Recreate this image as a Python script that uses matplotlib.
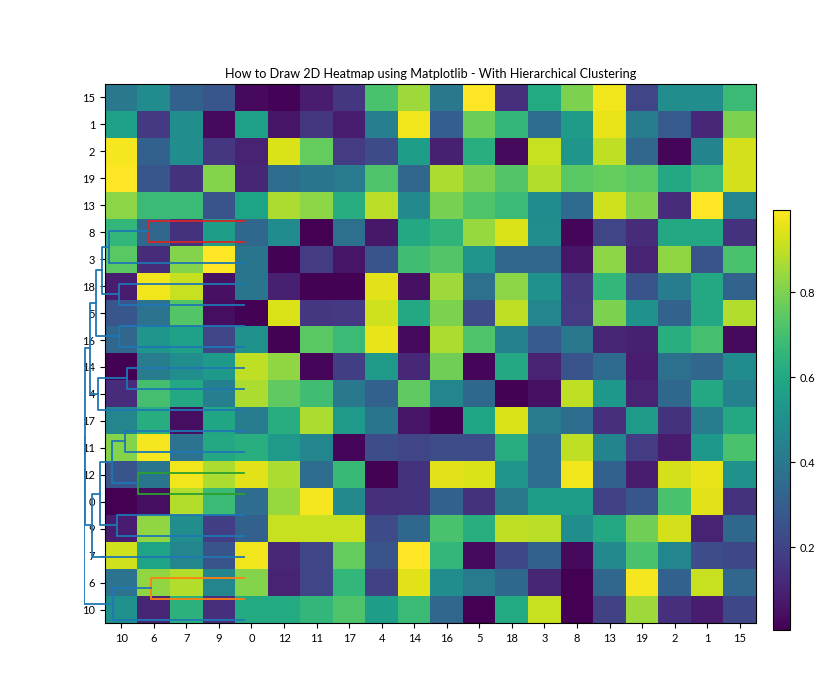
import matplotlib
matplotlib.use("Agg")
import matplotlib.pyplot as plt

plt.rcParams['font.family'] = ['Lato', 'DejaVu Sans']

# labels after clustering
row_labels = [15, 1, 2, 19, 13, 8, 3, 18, 5, 16, 14, 4, 17, 11, 12, 0, 9, 7, 6, 10]
col_labels = [10, 6, 7, 9, 0, 12, 11, 17, 4, 14, 16, 5, 18, 3, 8, 13, 19, 2, 1, 15]

# heatmap values, top row first
row_15 = [.40, .48, .31, .27, .03, .015, .08, .16, .71, .85, .40, .993, .14, .61, .80, .97, .21, .49, .49, .68]
row_1 = [.57, .17, .49, .03, .57, .06, .16, .08, .43, .97, .30, .77, .66, .36, .55, .96, .42, .29, .12, .80]
row_2 = [.98, .31, .49, .16, .10, .94, .76, .18, .23, .56, .09, .63, .03, .91, .52, .90, .33, .02, .45, .93]
row_19 = [.993, .27, .15, .81, .11, .36, .39, .41, .72, .33, .87, .80, .73, .88, .74, .76, .74, .60, .68, .93]
row_13 = [.82, .68, .68, .26, .58, .87, .82, .62, .89, .47, .79, .72, .68, .48, .35, .92, .80, .13, .993, .46]
row_8 = [.66, .33, .15, .56, .34, .48, .005, .37, .07, .60, .65, .84, .94, .49, .02, .21, .13, .60, .60, .15]
row_3 = [.74, .13, .81, .993, .39, .01, .18, .06, .26, .69, .73, .52, .33, .33, .06, .82, .10, .83, .26, .71]
row_18 = [.08, .97, .91, .05, .39, .09, .01, .01, .95, .05, .85, .37, .82, .51, .17, .66, .26, .42, .60, .32]
row_5 = [.27, .38, .73, .04, .01, .94, .16, .17, .92, .60, .80, .24, .90, .46, .18, .80, .51, .32, .60, .88]
row_16 = [.33, .52, .57, .21, .51, .01, .74, .68, .96, .03, .87, .72, .44, .29, .40, .11, .09, .63, .70, .03]
row_14 = [.01, .42, .49, .54, .90, .83, .02, .19, .54, .12, .78, .02, .60, .10, .26, .35, .08, .37, .33, .48]
row_4 = [.13, .70, .60, .43, .87, .75, .69, .40, .31, .75, .46, .34, .01, .05, .90, .53, .10, .34, .60, .44]
row_17 = [.46, .62, .04, .59, .42, .62, .87, .54, .39, .06, .01, .59, .94, .41, .36, .14, .54, .15, .42, .60]
row_11 = [.81, .98, .38, .60, .63, .54, .46, .02, .24, .21, .24, .24, .62, .36, .90, .45, .18, .08, .53, .71]
row_12 = [.26, .39, .97, .87, .95, .87, .36, .67, .01, .15, .95, .94, .52, .36, .97, .31, .08, .93, .96, .51]
row_0 = [.005, .04, .88, .68, .36, .84, .98, .47, .14, .15, .31, .15, .40, .56, .56, .20, .27, .71, .95, .15]
row_9 = [.08, .83, .49, .19, .31, .91, .91, .91, .23, .34, .71, .63, .90, .89, .49, .60, .78, .93, .10, .34]
row_7 = [.92, .58, .46, .26, .97, .12, .21, .76, .26, .993, .66, .03, .22, .31, .03, .47, .71, .46, .24, .22]
row_6 = [.38, .83, .88, .46, .81, .10, .21, .66, .20, .95, .49, .41, .34, .11, .005, .33, .98, .31, .91, .33]
row_10 = [.50, .11, .64, .14, .61, .61, .66, .72, .56, .68, .33, .005, .61, .91, .005, .20, .85, .14, .08, .22]
data = [row_15, row_1, row_2, row_19, row_13, row_8, row_3, row_18, row_5, row_16,
        row_14, row_4, row_17, row_11, row_12, row_0, row_9, row_7, row_6, row_10]

# dendrogram merges: the two children (0-19 leaf from the bottom, 20+ earlier merge), height, colour
merge_a = [1, 0, 6, 8, 22, 4, 24, 3, 11, 10, 13, 15, 18, 17, 31, 30, 29, 27, 21]
merge_b = [2, 20, 7, 9, 23, 5, 25, 26, 12, 28, 14, 16, 19, 32, 33, 34, 35, 36, 37]
merge_h = [.927, 1.307, 1.063, 1.187, 1.317, 1.267, 1.437, 1.523, 1.167, 1.457,
           1.247, 1.253, .957, 1.347, 1.423, 1.483, 1.537, 1.587, 1.596]
merge_c = ['C1', 'C0', 'C2', 'C0', 'C0', 'C0', 'C0', 'C0', 'C0', 'C0',
           'C0', 'C0', 'C3', 'C0', 'C0', 'C0', 'C0', 'C0', 'C0']

fig = plt.figure(figsize=(8.4, 7), dpi=100)

# heatmap
ax = fig.add_subplot(111)
im = ax.imshow(data, cmap='viridis', aspect='auto')
ax.set_xticks(range(len(col_labels)))
ax.set_xticklabels(col_labels, fontsize=8)
ax.set_yticks(range(len(row_labels)))
ax.set_yticklabels(row_labels, fontsize=8)
ax.set_title("How to Draw 2D Heatmap using Matplotlib - With Hierarchical Clustering", fontsize=9.1, pad=4.5)

# dendrogram on top of it
ax_dendro = fig.add_axes([0.1, 0.1, 0.2, 0.6])
pos = [5 + 10 * i for i in range(len(row_labels))]
height = [0] * len(row_labels)
for a, b, h, c in zip(merge_a, merge_b, merge_h, merge_c):
    ax_dendro.plot([height[a], h, h, height[b]], [pos[a], pos[a], pos[b], pos[b]], color=c, lw=1.3)
    pos.append((pos[a] + pos[b]) / 2)
    height.append(h)
ax_dendro.set_xlim(1.60, -0.08)
ax_dendro.set_ylim(0, 200)
ax_dendro.axis('off')

# colorbar
cax = fig.add_axes([0.92, 0.1, 0.02, 0.6])
cbar = fig.colorbar(im, cax=cax)
cbar.ax.tick_params(labelsize=8)

plt.savefig("out.png", dpi=100)
